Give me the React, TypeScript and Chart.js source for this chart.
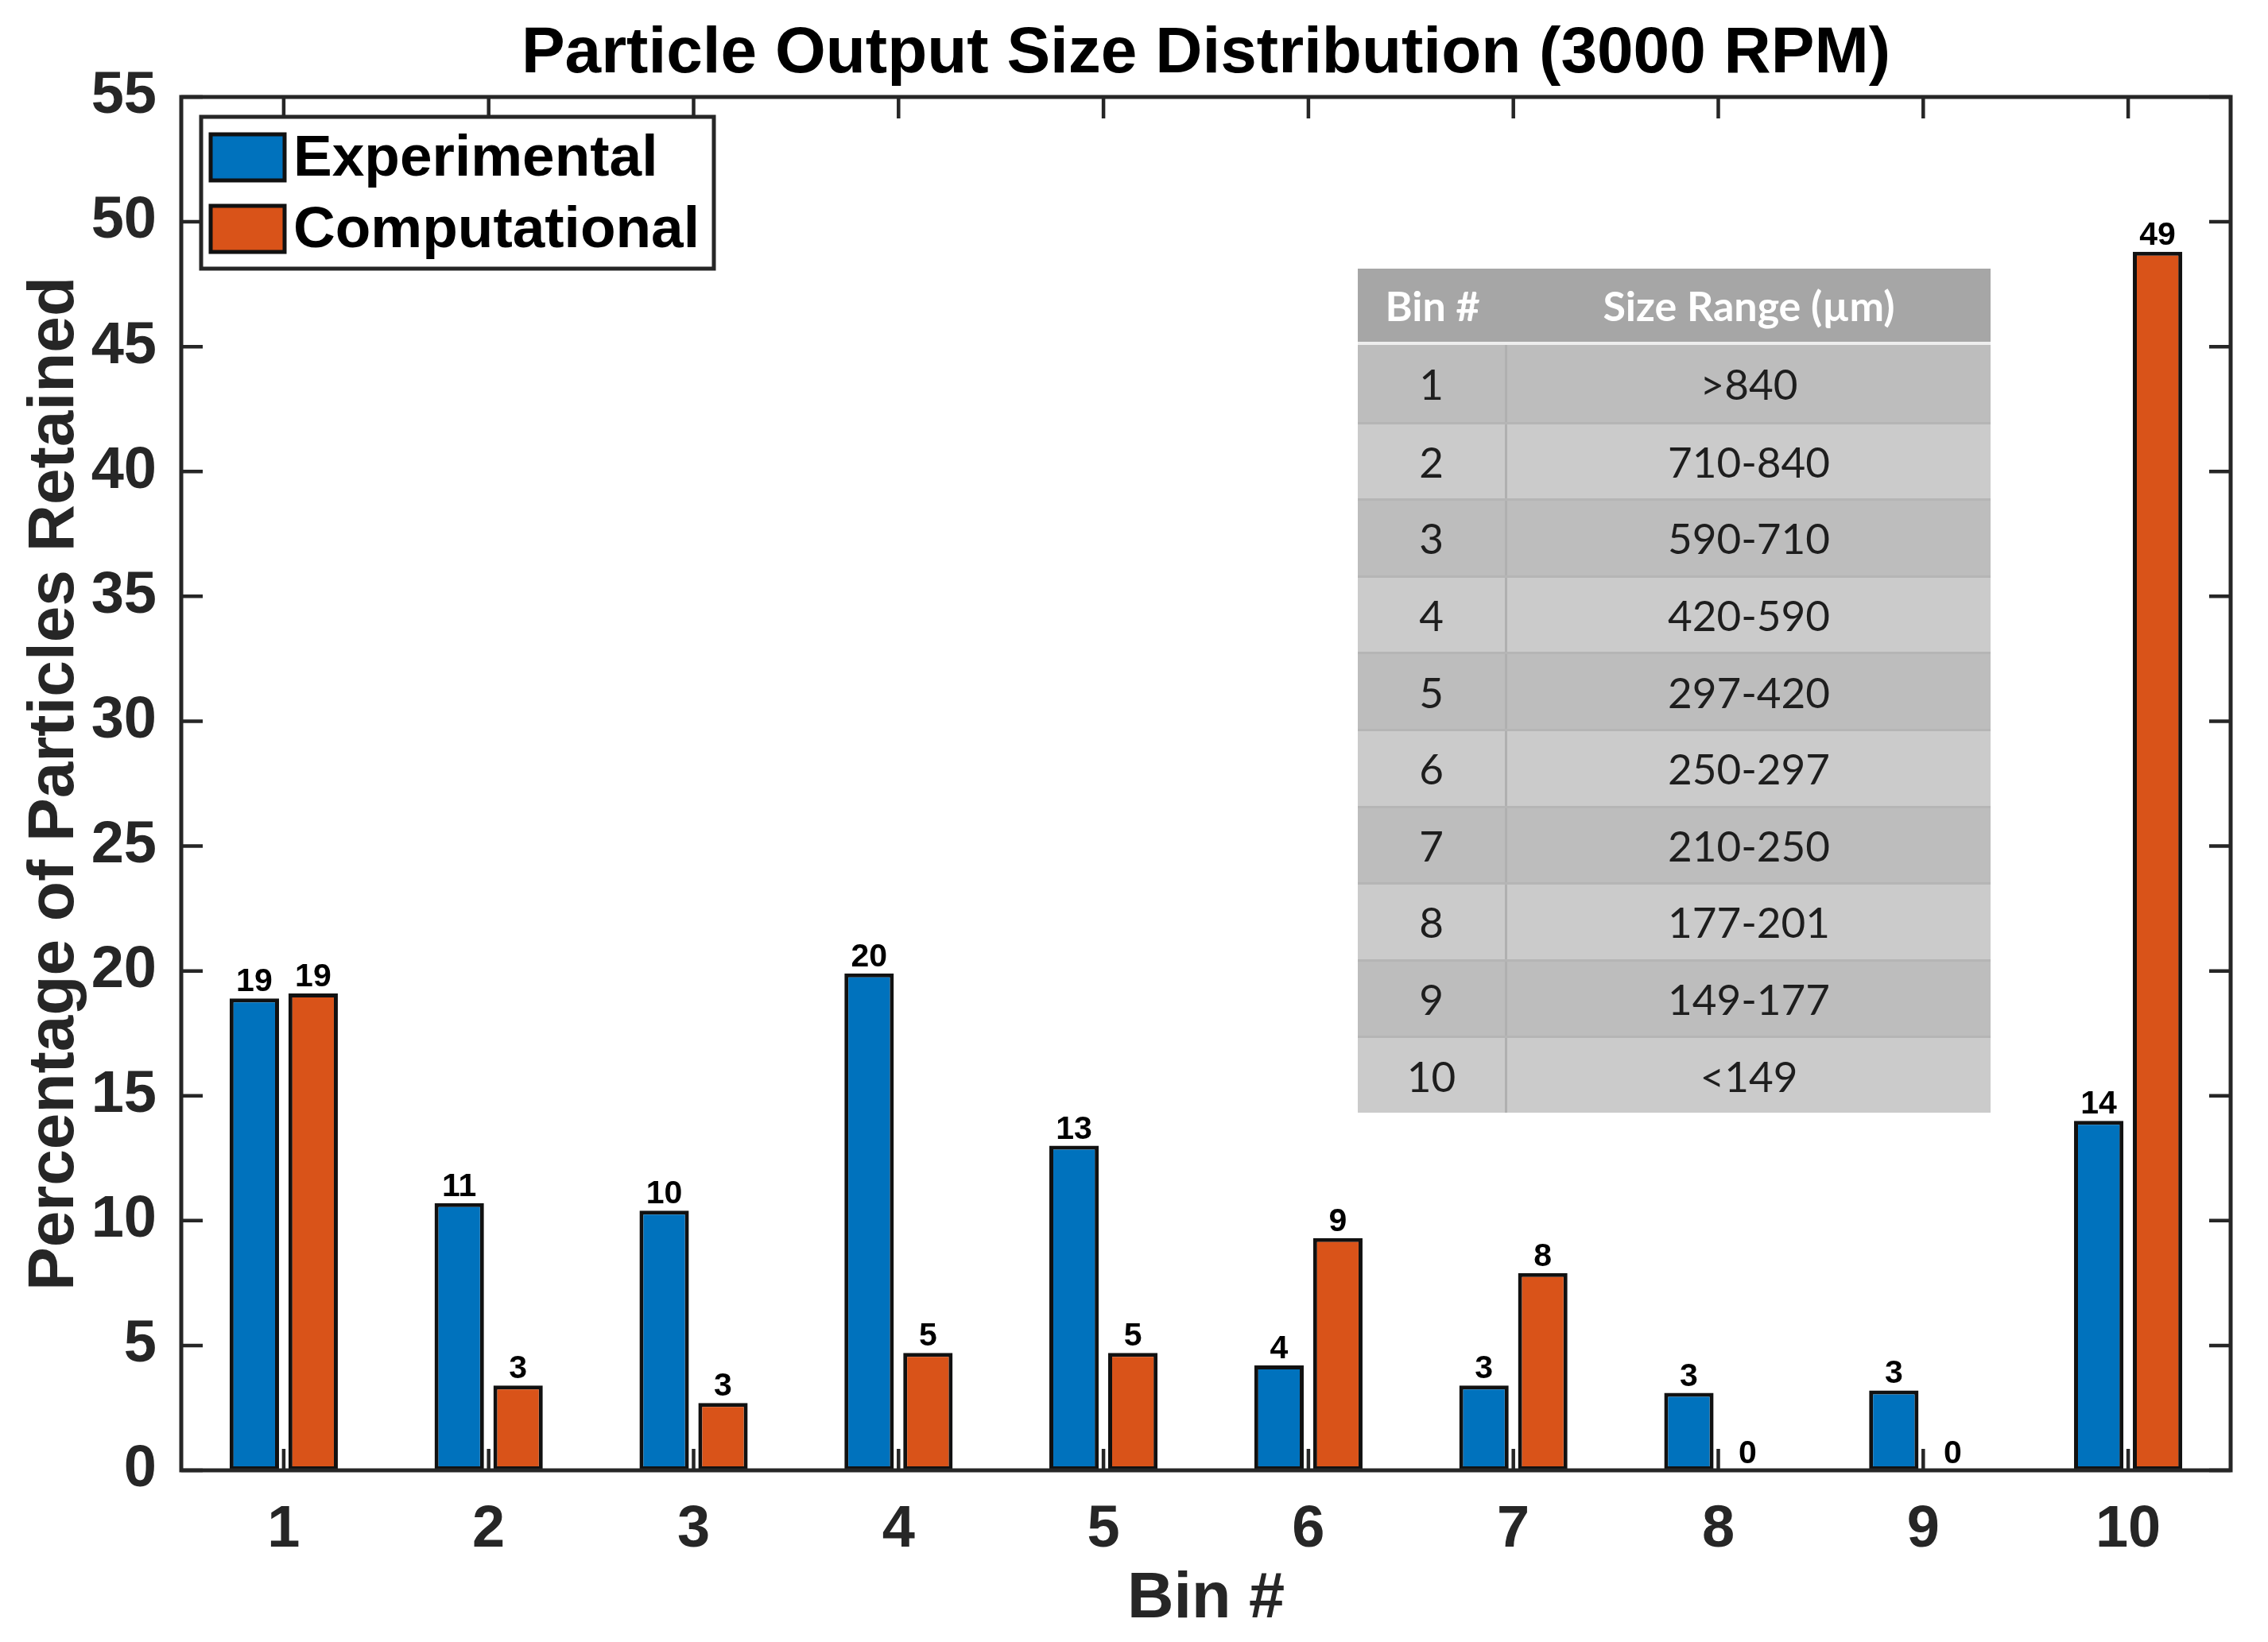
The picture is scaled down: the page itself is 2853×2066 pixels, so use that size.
import React, { useEffect, useRef } from 'react';
import { Chart, registerables } from 'chart.js';

Chart.register(...registerables);

// ---------- data ----------
const bins = ['1', '2', '3', '4', '5', '6', '7', '8', '9', '10'];
const experimental = [18.9, 10.7, 10.4, 19.9, 13.0, 4.2, 3.4, 3.1, 3.2, 14.0];
const computational = [19.1, 3.4, 2.7, 4.7, 4.7, 9.3, 7.9, 0, 0, 48.8];
const seriesLabels = ['Experimental', 'Computational'];
const seriesColors = ['#0072BD', '#D95319'];
const yMin = 0;
const yMax = 55;
const yStep = 5;
const chartTitle = 'Particle Output Size Distribution (3000 RPM)';
const xTitle = 'Bin #';
const yTitle = 'Percentage of Particles Retained';
const tableHeader = ['Bin #', 'Size Range (\u00b5m)'];
const tableBins = ['1', '2', '3', '4', '5', '6', '7', '8', '9', '10'];
const sizeRanges = ['>840', '710-840', '590-710', '420-590', '297-420', '250-297', '210-250', '177-201', '149-177', '<149'];

const FONT = '"Liberation Sans", Arial, Helvetica, sans-serif';
const AXIS_COLOR = '#262626';

const matlabPlugin = {
  id: 'matlabDecor',
  afterDatasetsDraw(chart: any) {
    const { ctx, chartArea: a, scales } = chart;
    const x = scales.x;
    const y = scales.y;
    ctx.save();

    // data labels
    ctx.font = `bold 41px ${FONT}`;
    ctx.fillStyle = '#000';
    ctx.textAlign = 'center';
    ctx.textBaseline = 'alphabetic';
    chart.data.datasets.forEach((ds: any, di: number) => {
      const meta = chart.getDatasetMeta(di);
      meta.data.forEach((bar: any, i: number) => {
        const v = ds.data[i];
        ctx.fillText(String(Math.round(v)), bar.x, bar.y - 9);
      });
    });

    // inward ticks
    const tl = 27;
    ctx.strokeStyle = AXIS_COLOR;
    ctx.lineWidth = 4.5;
    ctx.beginPath();
    x.ticks.forEach((_t: any, i: number) => {
      const px = x.getPixelForTick(i);
      ctx.moveTo(px, a.bottom);
      ctx.lineTo(px, a.bottom - tl);
      ctx.moveTo(px, a.top);
      ctx.lineTo(px, a.top + tl);
    });
    y.ticks.forEach((_t: any, i: number) => {
      const py = y.getPixelForTick(i);
      ctx.moveTo(a.left, py);
      ctx.lineTo(a.left + tl, py);
      ctx.moveTo(a.right, py);
      ctx.lineTo(a.right - tl, py);
    });
    ctx.stroke();

    // axes box
    ctx.lineWidth = 5;
    ctx.strokeRect(a.left, a.top, a.right - a.left, a.bottom - a.top);

    // legend (inside top-left)
    const lx = a.left + 25;
    const ly = a.top + 25;
    const lw = 645;
    const lh = 191;
    ctx.fillStyle = '#fff';
    ctx.fillRect(lx, ly, lw, lh);
    ctx.strokeStyle = AXIS_COLOR;
    ctx.lineWidth = 5;
    ctx.strokeRect(lx, ly, lw, lh);
    ctx.font = `bold 73px ${FONT}`;
    ctx.textAlign = 'left';
    ctx.textBaseline = 'middle';
    chart.data.datasets.forEach((ds: any, di: number) => {
      const cy = ly + 51 + di * 90;
      ctx.fillStyle = ds.backgroundColor;
      ctx.fillRect(lx + 12, cy - 29, 93, 58);
      ctx.strokeStyle = '#111';
      ctx.lineWidth = 5;
      ctx.strokeRect(lx + 12, cy - 29, 93, 58);
      ctx.fillStyle = '#000';
      ctx.fillText(ds.label, lx + 116, cy + 3);
    });

    // title
    ctx.font = `bold 82px ${FONT}`;
    ctx.fillStyle = '#000';
    ctx.textAlign = 'center';
    ctx.textBaseline = 'middle';
    ctx.fillText(chart.options.plugins.matlabDecor.title, (a.left + a.right) / 2, 68);

    ctx.restore();
  },
};

function App() {
  const ref = useRef<HTMLCanvasElement | null>(null);

  useEffect(() => {
    if (!ref.current) return;
    const common = {
      borderColor: '#111111',
      borderWidth: 5,
      borderSkipped: false,
      barPercentage: 0.84,
      categoryPercentage: 0.574,
    };
    const chart = new Chart(ref.current, {
      type: 'bar',
      data: {
        labels: bins,
        datasets: [
          { label: seriesLabels[0], data: experimental, backgroundColor: seriesColors[0], ...common },
          { label: seriesLabels[1], data: computational, backgroundColor: seriesColors[1], ...common },
        ],
      },
      options: {
        animation: false,
        responsive: true,
        maintainAspectRatio: false,
        devicePixelRatio: 1,
        layout: { padding: { top: 122, right: 47, left: 0, bottom: 0 } },
        plugins: {
          legend: { display: false },
          tooltip: { enabled: false },
          title: { display: false },
          matlabDecor: { title: chartTitle },
        } as any,
        scales: {
          x: {
            type: 'category',
            offset: true,
            grid: { display: false },
            border: { display: false },
            ticks: {
              color: AXIS_COLOR,
              padding: 23,
              font: { family: FONT, size: 74, weight: 'bold', lineHeight: 1.2 },
            },
            title: {
              display: true,
              text: xTitle,
              color: AXIS_COLOR,
              font: { family: FONT, size: 81, weight: 'bold', lineHeight: 1.15 },
              padding: { top: 0, bottom: 7 },
            },
            afterFit(s: any) {
              s.height = 216;
            },
          },
          y: {
            min: yMin,
            max: yMax,
            grid: { display: false },
            border: { display: false },
            ticks: {
              stepSize: yStep,
              color: AXIS_COLOR,
              padding: 23,
              font: { family: FONT, size: 74, weight: 'bold' },
            },
            title: {
              display: true,
              text: yTitle,
              color: AXIS_COLOR,
              font: { family: FONT, size: 82, weight: 'bold', lineHeight: 1.2 },
              padding: { top: 20, bottom: 0 },
            },
            afterFit(s: any) {
              s.width = 228;
            },
          },
        },
      } as any,
      plugins: [matlabPlugin],
    });
    return () => chart.destroy();
  }, []);

  const rowH = 96.6;
  return (
    <div style={{ position: 'absolute', left: 0, top: 0, width: 2853, height: 2066, background: '#fff' }}>
      <canvas ref={ref} width={2853} height={2066} />
      <div
        style={{
          position: 'absolute',
          left: 1708,
          top: 338,
          width: 796,
          fontFamily: 'Lato, "Open Sans", sans-serif',
          color: '#1e1e1e',
        }}
      >
        <div
          style={{
            display: 'flex',
            height: 96,
            background: '#a6a6a6',
            color: '#fff',
            fontWeight: 'bold',
            fontSize: 52,
            alignItems: 'center',
            borderBottom: '4px solid #eeeeee',
            boxSizing: 'border-box',
          }}
        >
          <div style={{ width: 188, textAlign: 'center' }}>{tableHeader[0]}</div>
          <div style={{ flex: 1, textAlign: 'center' }}>{tableHeader[1]}</div>
        </div>
        {tableBins.map((b, i) => (
          <div
            key={b}
            style={{
              display: 'flex',
              height: rowH,
              alignItems: 'stretch',
              background: i % 2 === 0 ? '#bdbdbd' : '#cbcbcb',
              borderTop: i === 0 ? 'none' : '3px solid #b5b5b5',
              boxSizing: 'border-box',
              fontSize: 53,
            }}
          >
            <div
              style={{
                width: 188,
                display: 'flex',
                alignItems: 'center',
                justifyContent: 'center',
                borderRight: '3px solid #b0b0b0',
                boxSizing: 'border-box',
              }}
            >
              {b}
            </div>
            <div style={{ flex: 1, display: 'flex', alignItems: 'center', justifyContent: 'center' }}>
              {sizeRanges[i]}
            </div>
          </div>
        ))}
      </div>
    </div>
  );
}

export default App;
